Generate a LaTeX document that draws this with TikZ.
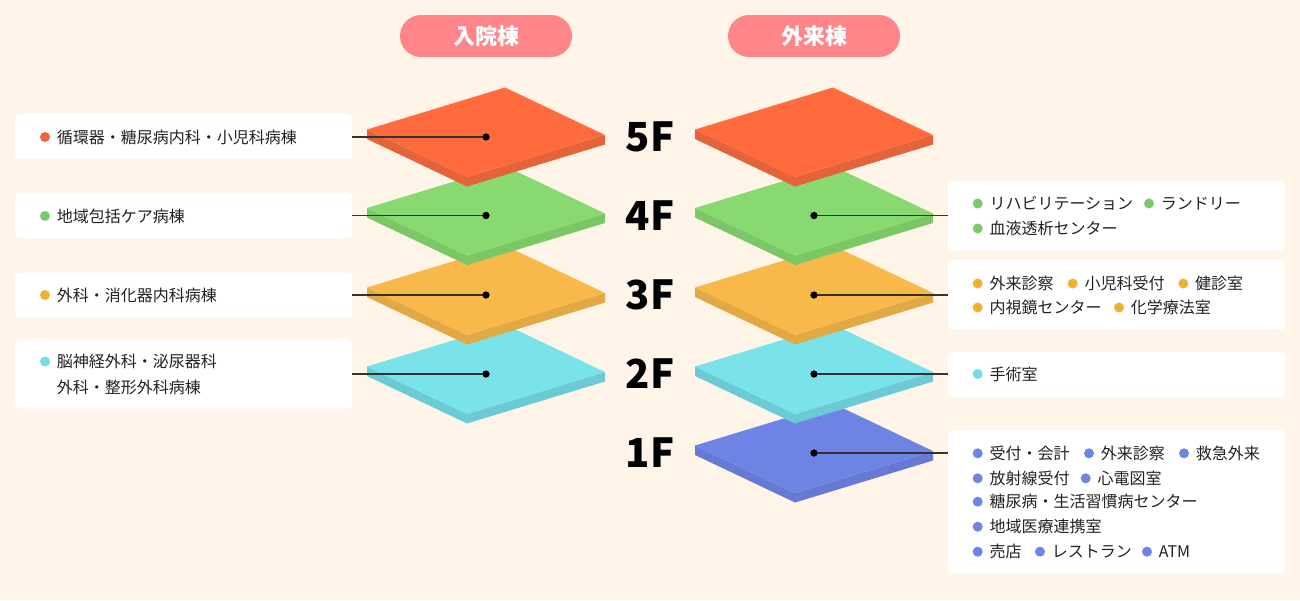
\documentclass[tikz,border=0pt]{standalone}
\usepackage{fontspec}
\setmainfont{Noto Sans CJK JP}
\usetikzlibrary{calc}
\definecolor{bg}{HTML}{FEF5E8}
\definecolor{pink}{HTML}{FF8589}
\definecolor{txt}{HTML}{222222}
\definecolor{lnc}{HTML}{333333}
\definecolor{orT}{HTML}{FF6B3D}\definecolor{orS}{HTML}{E5633A}
\definecolor{grT}{HTML}{88D970}\definecolor{grS}{HTML}{7BC766}
\definecolor{yeT}{HTML}{F8B84A}\definecolor{yeS}{HTML}{E2A843}
\definecolor{cyT}{HTML}{7AE3EA}\definecolor{cyS}{HTML}{6BCBD5}
\definecolor{blT}{HTML}{6E84E4}\definecolor{blS}{HTML}{6679D4}
\definecolor{orB}{HTML}{F0643A}
\definecolor{grB}{HTML}{7CCB68}
\definecolor{yeB}{HTML}{F2B030}
\definecolor{cyB}{HTML}{72DCEA}
\definecolor{blB}{HTML}{6E84E4}
\newcommand\myslab[4]{%
  \begin{scope}[shift={(#1,#2)}]
    \fill[#4] (-119,-7.5) -- (-19,40) -- (119,-2) -- (119,7.5) -- (-19,49.5) -- (-119,2) -- cycle;
    \fill[#3] (19,-49.5) -- (-119,-7.5) -- (-19,40) -- (119,-2) -- cycle;
  \end{scope}}
\tikzset{
  pill/.style={rectangle, rounded corners=21pt, minimum width=172pt, minimum height=42pt, fill=pink, text=white, inner sep=0, font=\bfseries\fontsize{22}{22}\selectfont},
  floorlbl/.style={inner sep=0, text=black, font=\bfseries\fontsize{40}{40}\selectfont},
  infobox/.style={rectangle, fill=white, rounded corners=4pt, inner sep=0, anchor=north west},
  item/.style={inner sep=0, anchor=west, text=txt, font=\fontsize{16}{18}\selectfont},
  bul/.style={circle, inner sep=0, minimum size=10pt, fill=#1},
  dotn/.style={circle, inner sep=0, minimum size=7pt, fill=black},
  conn/.style={draw=lnc, line width=1.6pt}
}
\begin{document}
\begin{tikzpicture}[x=1pt,y=-1pt]
\fill[bg] (0,0) rectangle (1300,600);
\useasboundingbox (0,0) rectangle (1300,600);

% headers
\node[pill] (h1) at (486,36) {入院棟};
\node[pill] (h2) at (814,36) {外来棟};

% slabs (bottom to top)
\myslab{814}{453}{blT}{blS}
\myslab{486}{374}{cyT}{cyS}
\myslab{814}{374}{cyT}{cyS}
\myslab{486}{295}{yeT}{yeS}
\myslab{814}{295}{yeT}{yeS}
\myslab{486}{215.5}{grT}{grS}
\myslab{814}{215.5}{grT}{grS}
\myslab{486}{137}{orT}{orS}
\myslab{814}{137}{orT}{orS}

% floor labels
\node[floorlbl] (f5) at (650,137) {5F};
\node[floorlbl] (f4) at (650,215.5) {4F};
\node[floorlbl] (f3) at (650,295) {3F};
\node[floorlbl] (f2) at (650,374) {2F};
\node[floorlbl] (f1) at (650,453) {1F};

% boxes
\node[infobox, minimum width=337pt, minimum height=45pt] (lb5) at (15,114) {};
\node[infobox, minimum width=337pt, minimum height=45pt] (lb4) at (15,193) {};
\node[infobox, minimum width=337pt, minimum height=45pt] (lb3) at (15,272.5) {};
\node[infobox, minimum width=337pt, minimum height=69.5pt] (lb2) at (15,339) {};
\node[infobox, minimum width=337pt, minimum height=70pt] (rb4) at (948,181) {};
\node[infobox, minimum width=337pt, minimum height=69.5pt] (rb3) at (948,260) {};
\node[infobox, minimum width=337pt, minimum height=45pt] (rb2) at (948,352) {};
\node[infobox, minimum width=337pt, minimum height=143pt] (rb1) at (948,430) {};

% dots
\node[dotn] (l5) at (486,137) {};
\node[dotn] (l4) at (486,215.5) {};
\node[dotn] (l3) at (486,295) {};
\node[dotn] (l2) at (486,374) {};
\node[dotn] (r4) at (814,215.5) {};
\node[dotn] (r3) at (814,295) {};
\node[dotn] (r2) at (814,374) {};
\node[dotn] (r1) at (814,453) {};

% connectors
\draw[conn] (lb5.east |- l5) -- (l5.center);
\draw[conn] (lb4.east |- l4) -- (l4.center);
\draw[conn] (lb3.east |- l3) -- (l3.center);
\draw[conn] (lb2.east |- l2) -- (l2.center);
\draw[conn] (r4.center) -- (rb4.west |- r4);
\draw[conn] (r3.center) -- (rb3.west |- r3);
\draw[conn] (r2.center) -- (rb2.west |- r2);
\draw[conn] (r1.center) -- (rb1.west |- r1);
\node[dotn] at (l5) {};
\node[dotn] at (l4) {};
\node[dotn] at (l3) {};
\node[dotn] at (l2) {};
\node[dotn] at (r4) {};
\node[dotn] at (r3) {};
\node[dotn] at (r2) {};
\node[dotn] at (r1) {};

% left texts
\node[bul=orB] (lb5b) at (45,137) {};
\node[item] (lt5) at (56.7,137) {循環器・糖尿病内科・小児科病棟};
\node[bul=grB] (lb4b) at (45,216) {};
\node[item] (lt4) at (56.7,216) {地域包括ケア病棟};
\node[bul=yeB] (lb3b) at (45,295) {};
\node[item] (lt3) at (56.7,295) {外科・消化器内科病棟};
\node[bul=cyB] (lb2b) at (45,361.5) {};
\node[item] (lt2a) at (56.7,361.5) {脳神経外科・泌尿器科};
\node[item] (lt2b) at (56.7,387.3) {外科・整形外科病棟};

% right 4F
\node[bul=grB] (a1b) at (977.7,203.5) {};
\node[item] (a1) at (989.3,203.5) {リハビリテーション};
\node[bul=grB] (a2b) at (1149,203.5) {};
\node[item] (a2) at (1160.6,203.5) {ランドリー};
\node[bul=grB] (a3b) at (977.7,228.5) {};
\node[item] (a3) at (989.3,228.5) {血液透析センター};
% right 3F
\node[bul=yeB] (b1b) at (977.7,283.5) {};
\node[item] (b1) at (989.3,283.5) {外来診察};
\node[bul=yeB] (b2b) at (1072.7,283.5) {};
\node[item] (b2) at (1084.3,283.5) {小児科受付};
\node[bul=yeB] (b3b) at (1183.3,283.5) {};
\node[item] (b3) at (1195,283.5) {健診室};
\node[bul=yeB] (b4b) at (977.7,307.5) {};
\node[item] (b4) at (989.3,307.5) {内視鏡センター};
\node[bul=yeB] (b5b) at (1119,307.5) {};
\node[item] (b5) at (1130.6,307.5) {化学療法室};
% right 2F
\node[bul=cyB] (c1b) at (977.7,374) {};
\node[item] (c1) at (989.3,374) {手術室};
% right 1F
\node[bul=blB] (d1b) at (977.7,453.3) {};
\node[item] (d1) at (989.3,453.3) {受付・会計};
\node[bul=blB] (d2b) at (1089,453.3) {};
\node[item] (d2) at (1100.6,453.3) {外来診察};
\node[bul=blB] (d3b) at (1184,453.3) {};
\node[item] (d3) at (1195.6,453.3) {救急外来};
\node[bul=blB] (d4b) at (977.7,478.3) {};
\node[item] (d4) at (989.3,478.3) {放射線受付};
\node[bul=blB] (d5b) at (1085.7,478.3) {};
\node[item] (d5) at (1097.3,478.3) {心電図室};
\node[bul=blB] (d6b) at (977.7,501.7) {};
\node[item] (d6) at (989.3,501.7) {糖尿病・生活習慣病センター};
\node[bul=blB] (d7b) at (977.7,526.7) {};
\node[item] (d7) at (989.3,526.7) {地域医療連携室};
\node[bul=blB] (d8b) at (977.7,551.7) {};
\node[item] (d8) at (989.3,551.7) {売店};
\node[bul=blB] (d9b) at (1040,551.7) {};
\node[item] (d9) at (1051.6,551.7) {レストラン};
\node[bul=blB] (d10b) at (1147,551.7) {};
\node[item] (d10) at (1158.6,551.7) {ATM};
\end{tikzpicture}
\end{document}
